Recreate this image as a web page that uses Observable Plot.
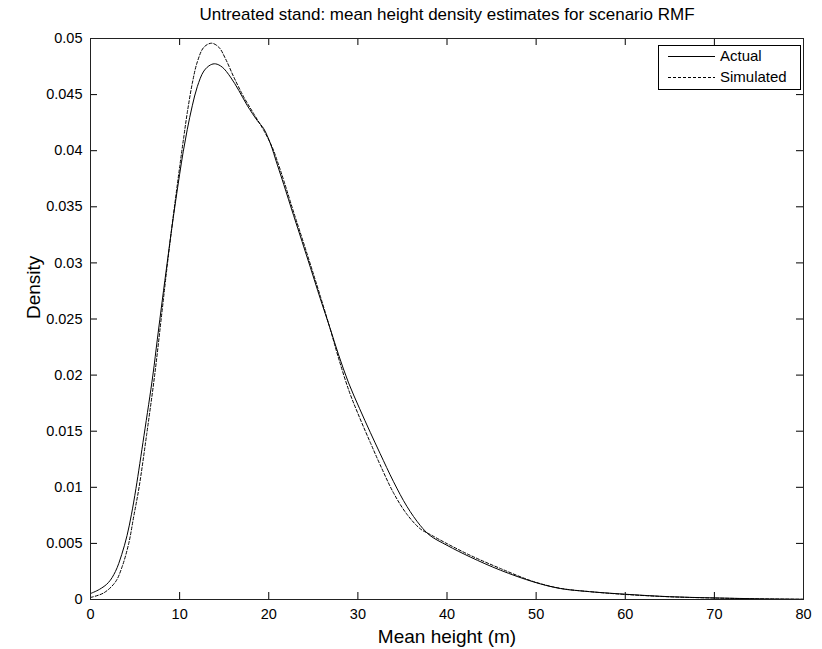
<!DOCTYPE html>
<html><head><meta charset="utf-8">
<script src="https://cdn.jsdelivr.net/npm/d3@7"></script>
<script src="https://cdn.jsdelivr.net/npm/@observablehq/plot@0.6"></script>
<style>body{margin:0;background:#fff} svg{display:block}</style>
</head><body><div id="chart"></div><script>
const titleText = "Untreated stand: mean height density estimates for scenario RMF";
const xLabel = "Mean height (m)";
const yLabel = "Density";
const seriesNames = ["Actual", "Simulated"];
const xTicks = [0, 10, 20, 30, 40, 50, 60, 70, 80];
const yTicks = [0, 0.005, 0.01, 0.015, 0.02, 0.025, 0.03, 0.035, 0.04, 0.045, 0.05];

const actualX = [0, 1.0, 2.0, 2.8, 3.5, 4.1, 4.6, 5.1, 6.0, 7.0, 7.5, 8.06, 8.62, 9.07, 9.55, 10.0, 10.4, 10.86, 11.42, 11.98, 12.72, 13.47, 14.03, 14.78, 15.71, 16.64, 17.58, 18.7, 19.44, 20.19, 20.94, 21.68, 22.8, 23.74, 24.67, 25.79, 26.91, 27.84, 28.96, 30.2, 31.39, 32.5, 34.0, 35.5, 37.0, 38.1, 40.0, 42.6, 46.0, 49.7, 52.7, 56, 60, 65, 70, 75, 80];
const actualY = [0.00053, 0.0009, 0.0015, 0.0025, 0.0040, 0.0057, 0.0076, 0.0099, 0.0146, 0.0200, 0.0232, 0.0267, 0.0301, 0.0328, 0.0355, 0.0379, 0.0399, 0.0419, 0.0440, 0.0457, 0.0471, 0.04765, 0.04774, 0.04745, 0.04656, 0.04537, 0.04404, 0.0427, 0.04196, 0.04062, 0.0388, 0.0370, 0.0342, 0.0319, 0.0296, 0.0268, 0.0241, 0.0218, 0.0193, 0.0170, 0.0149, 0.0130, 0.0105, 0.0083, 0.0066, 0.0057, 0.00483, 0.00379, 0.00261, 0.00157, 0.00098, 0.0007, 0.00047, 0.00025, 0.00014, 0.00006, 0.00002];

const simulatedX = [0, 1.49, 2.8, 3.54, 4.29, 4.85, 5.45, 6.3, 7.2, 8.0, 8.6, 9.1, 9.55, 10.03, 10.48, 10.86, 11.42, 11.98, 12.72, 13.58, 14.4, 15.15, 16.08, 17.2, 18.32, 19.44, 20.38, 21.12, 21.7, 22.8, 23.7, 24.7, 25.8, 26.9, 27.8, 29.0, 30.2, 31.39, 32.5, 34.0, 35.5, 37.0, 38.1, 40.0, 42.6, 46.0, 49.7, 52.7, 56, 60, 65, 70, 75, 80];
const simulatedY = [0.00018, 0.00059, 0.00157, 0.0029, 0.0050, 0.0074, 0.0100, 0.0147, 0.0200, 0.0255, 0.0297, 0.0330, 0.0358, 0.0387, 0.0413, 0.0434, 0.0460, 0.0479, 0.04922, 0.04958, 0.04922, 0.04819, 0.04656, 0.04478, 0.04329, 0.04181, 0.04033, 0.0387, 0.0373, 0.0345, 0.0323, 0.0298, 0.0270, 0.0241, 0.0216, 0.0186, 0.0162, 0.0140, 0.0120, 0.0095, 0.0076, 0.0063, 0.0058, 0.00498, 0.00394, 0.00276, 0.0016, 0.0010, 0.0007, 0.00045, 0.00024, 0.00013, 0.00006, 0.00002];

const actual = actualX.map((x, i) => ({x, y: actualY[i]}));
const simulated = simulatedX.map((x, i) => ({x, y: simulatedY[i]}));

const W = 822, H = 649, ML = 90, MR = 19, MT = 38, MB = 50;
const FW = W - ML - MR, FH = H - MT - MB;
const font = "'Liberation Sans', Arial, Helvetica, sans-serif";

const svg = Plot.plot({
  width: W, height: H,
  marginLeft: ML, marginRight: MR, marginTop: MT, marginBottom: MB,
  style: {fontFamily: font, fontSize: "14.5px", color: "#000", background: "#fff", overflow: "visible"},
  x: {domain: [0, 80]},
  y: {domain: [0, 0.05]},
  marks: [
    Plot.axisX({ticks: xTicks, tickSize: 0, tickPadding: 9, label: null, fontSize: 14.5}),
    Plot.axisY({ticks: yTicks, tickSize: 0, tickPadding: 8, label: null, fontSize: 14.5, tickFormat: d => d === 0 ? "0" : String(d)}),
    Plot.tickX(xTicks, {x: d => d, insetTop: FH - 7, stroke: "#000"}),
    Plot.tickX(xTicks, {x: d => d, insetBottom: FH - 7, stroke: "#000"}),
    Plot.tickY(yTicks, {y: d => d, insetRight: FW - 7, stroke: "#000"}),
    Plot.tickY(yTicks, {y: d => d, insetLeft: FW - 7, stroke: "#000"}),
    Plot.line(actual, {x: "x", y: "y", curve: "catmull-rom", stroke: "#000", strokeWidth: 1}),
    Plot.line(simulated, {x: "x", y: "y", curve: "catmull-rom", stroke: "#000", strokeWidth: 1, strokeDasharray: "3,2"}),
    Plot.frame({stroke: "#222"}),
    Plot.text([titleText], {text: d => d, frameAnchor: "top", lineAnchor: "middle", dy: -23.5, fontSize: 17}),
    Plot.text([xLabel], {text: d => d, frameAnchor: "bottom", lineAnchor: "middle", dy: 37, fontSize: 19}),
    Plot.text([yLabel], {text: d => d, frameAnchor: "left", lineAnchor: "middle", dx: -57, rotate: -90, fontSize: 19})
  ]
});

// legend box (top right, inside frame)
const lg = d3.select(svg).append("g").attr("font-family", font).attr("font-size", 15).attr("text-anchor", "start");
lg.append("rect").attr("x", 658.5).attr("y", 45.5).attr("width", 142).attr("height", 44)
  .attr("fill", "#fff").attr("stroke", "#000");
const entries = [{name: seriesNames[0], y: 56, dash: null}, {name: seriesNames[1], y: 77, dash: "3,2"}];
entries.forEach(e => {
  lg.append("line").attr("x1", 668).attr("x2", 715).attr("y1", e.y + 0.5).attr("y2", e.y + 0.5)
    .attr("stroke", "#000").attr("stroke-dasharray", e.dash);
  lg.append("text").attr("x", 720).attr("y", e.y).attr("dy", "0.35em").attr("text-anchor", "start").text(e.name);
});

document.getElementById("chart").appendChild(svg);
</script></body></html>
